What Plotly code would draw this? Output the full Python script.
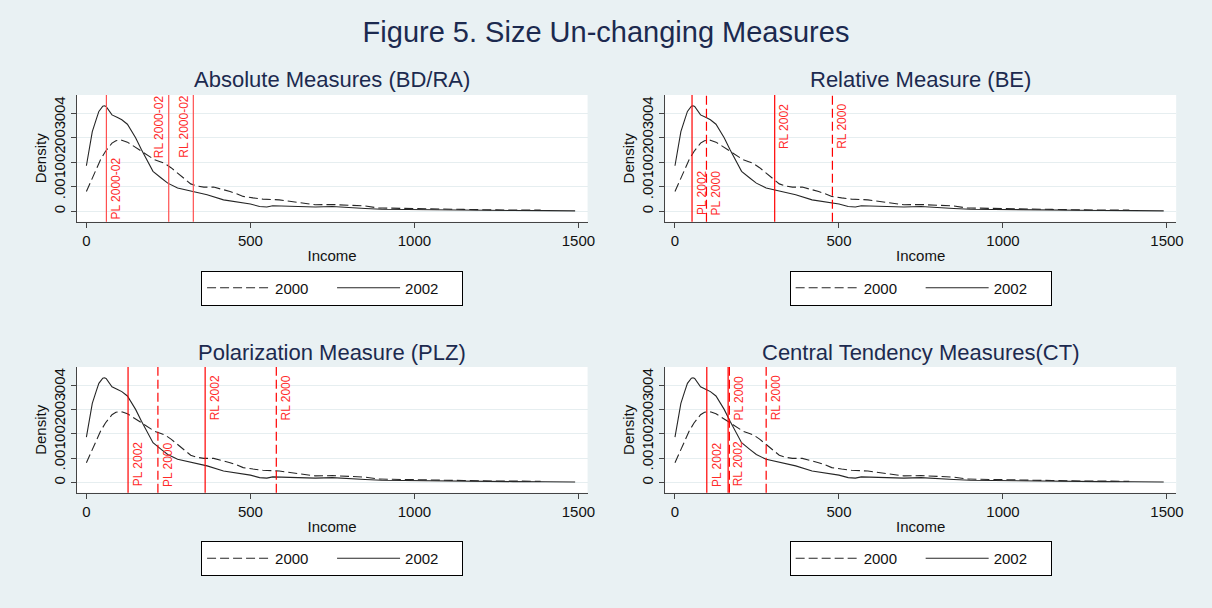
import plotly.graph_objects as go

# ---------------- data ----------------
income_2000 = [0, 14, 28, 43, 58, 78, 90, 103, 110, 125, 138, 153, 168, 188, 208, 225, 238,
               258, 278, 298, 318, 338, 358, 388, 410, 438, 458, 478, 508, 538, 588, 618,
               638, 668, 698, 750, 800, 850, 890, 950, 1050, 1150, 1250, 1385]
density_2000 = [0.81, 1.25, 1.69, 2.10, 2.44, 2.78, 2.88, 2.91, 2.89, 2.82, 2.71, 2.58, 2.44,
                2.25, 2.10, 2.02, 1.96, 1.78, 1.56, 1.33, 1.12, 1.03, 0.99, 0.99, 0.92, 0.81,
                0.72, 0.61, 0.55, 0.50, 0.47, 0.42, 0.37, 0.33, 0.27, 0.28, 0.25, 0.22, 0.14,
                0.12, 0.11, 0.08, 0.06, 0.05]
density_2000 = [d / 1000 for d in density_2000]

income_2002 = [0, 10, 18, 30, 38, 50, 55, 60, 70, 78, 95, 108, 125, 133, 150, 168, 185, 203,
               228, 248, 278, 300, 328, 368, 418, 478, 500, 528, 550, 568, 638, 698, 750, 800,
               850, 900, 1000, 1100, 1200, 1300, 1400, 1490]
density_2002 = [1.86, 2.60, 3.25, 3.75, 4.07, 4.28, 4.30, 4.27, 4.10, 3.93, 3.82, 3.73, 3.55,
                3.39, 3.00, 2.51, 2.05, 1.63, 1.36, 1.15, 0.95, 0.88, 0.81, 0.68, 0.47, 0.34,
                0.30, 0.20, 0.18, 0.23, 0.20, 0.18, 0.20, 0.15, 0.12, 0.09, 0.07, 0.06, 0.04,
                0.035, 0.03, 0.02]
density_2002 = [d / 1000 for d in density_2002]

panel_titles = ["Absolute Measures (BD/RA)", "Relative Measure (BE)",
                "Polarization Measure (PLZ)", "Central Tendency Measures(CT)"]

# reference lines: (label, income, year-of-line, label placement)
lines_bdra = [("PL 2000-02", 61, "both", "bottom"), ("RL 2000-02", 251, "both", "top"),
              ("RL 2000-02", 326, "both", "top")]
lines_be = [("PL 2002", 52, "2002", "bottom"), ("PL 2000", 96, "2000", "bottom"),
            ("RL 2002", 304, "2002", "top"), ("RL 2000", 480, "2000", "top")]
lines_plz = [("PL 2002", 127, "2002", "bottom"), ("PL 2000", 218, "2000", "bottom"),
             ("RL 2002", 362, "2002", "top"), ("RL 2000", 579, "2000", "top")]
lines_ct = [("PL 2002", 97, "2002", "bottom"), ("RL 2002", 162, "2002", "bottom"),
            ("PL 2000", 166, "2000", "top"), ("RL 2000", 278, "2000", "top")]
panel_lines = [lines_bdra, lines_be, lines_plz, lines_ct]

x_ticks = [0, 500, 1000, 1500]
y_ticks = [0, 0.001, 0.002, 0.003, 0.004]
y_ticktext = ["0", ".001", ".002", ".003", ".004"]
series_names = ["2000", "2002"]

# ---------------- styling ----------------
W, H = 1212, 608
FONT = "Liberation Sans, Arial, sans-serif"
BG = "#e9f1f3"
NAVY = "#1c2a4f"
CURVE = "#262626"
DASH = "9px,4px"

x_domains = [[77 / W, 591 / W], [669 / W, 1183 / W]]
y_domains = [[1 - 221.7 / H, 1 - 95 / H], [1 - 492.7 / H, 1 - 367 / H]]
title_y = [80, 352]
legend_top = [270.5, 541]

fig = go.Figure()
layout = {}
annotations = []
shapes = []

for i in range(4):
    row, col = divmod(i, 2)
    n = "" if i == 0 else str(i + 1)
    xa, ya = "x" + n, "y" + n
    leg = "legend" + n
    fig.add_trace(go.Scatter(x=income_2000, y=density_2000, mode="lines", name=series_names[0],
                             line=dict(color=CURVE, width=1.1, dash=DASH),
                             xaxis=xa, yaxis=ya, legend=leg))
    fig.add_trace(go.Scatter(x=income_2002, y=density_2002, mode="lines", name=series_names[1],
                             line=dict(color=CURVE, width=1.1),
                             xaxis=xa, yaxis=ya, legend=leg))
    layout["xaxis" + n] = dict(
        domain=x_domains[col], anchor=ya, range=[-30, 1528], tickvals=x_ticks,
        ticks="outside", ticklen=5, tickcolor="#444", showline=True, linecolor="#444",
        linewidth=1, showgrid=False, zeroline=False,
        tickfont=dict(family=FONT, size=15, color="#111"),
        title=dict(text="Income", font=dict(family=FONT, size=15, color="#111"), standoff=2),
    )
    layout["yaxis" + n] = dict(
        domain=y_domains[row], anchor=xa, range=[-0.00042, 0.00474], tickvals=y_ticks,
        ticktext=y_ticktext, tickangle=-90, ticks="outside", ticklen=5, tickcolor="#444",
        showline=True, linecolor="#444", linewidth=1, showgrid=True, gridcolor="#e6eef0",
        zeroline=False, tickfont=dict(family=FONT, size=15, color="#111"),
        title=dict(text="Density", font=dict(family=FONT, size=15, color="#111"), standoff=0),
    )
    xc = (x_domains[col][0] + x_domains[col][1]) / 2
    annotations.append(dict(text=panel_titles[i], xref="paper", yref="paper", x=xc,
                            y=1 - title_y[row] / H, xanchor="center", yanchor="middle",
                            showarrow=False, font=dict(family=FONT, size=22, color=NAVY)))
    layout[leg] = dict(
        orientation="h", x=xc, xanchor="center", y=1 - legend_top[row] / H, yanchor="top",
        bgcolor="white", bordercolor="#000", borderwidth=1, itemwidth=63, entrywidth=52,
        font=dict(family=FONT, size=15, color="#111"), traceorder="normal",
    )
    line_color = "#ff5050" if i == 0 else "red"
    for label, xv, yr, place in panel_lines[i]:
        shapes.append(dict(type="line", xref=xa, yref=ya + " domain", x0=xv, x1=xv, y0=0, y1=1,
                           line=dict(color=line_color, width=1.2,
                                     dash=DASH if yr == "2000" else "solid")))
        ycen = 0.00346 if place == "top" else (0.00095 if i == 0 else 0.00075)
        if i == 0 and label.startswith("RL"):
            xanchor, xshift = "right", 0
        else:
            xanchor, xshift = "left", 1
        annotations.append(dict(text=label, xref=xa, yref=ya, x=xv, y=ycen, xanchor=xanchor,
                                yanchor="middle", xshift=xshift, textangle=-90, showarrow=False,
                                font=dict(family=FONT, size=12, color="#ff2a2a")))

fig.update_layout(
    width=W, height=H, margin=dict(l=0, r=0, t=0, b=0),
    paper_bgcolor=BG, plot_bgcolor="white",
    title=dict(text="Figure 5. Size Un-changing Measures", x=0.5, xanchor="center",
               y=1 - 32 / H, yanchor="middle", font=dict(family=FONT, size=29, color=NAVY)),
    annotations=annotations, shapes=shapes, showlegend=True,
    **layout,
)

fig.write_html("out.html", config={"displayModeBar": False},
               post_script="document.body.style.margin='0';document.body.style.overflow='hidden';")
